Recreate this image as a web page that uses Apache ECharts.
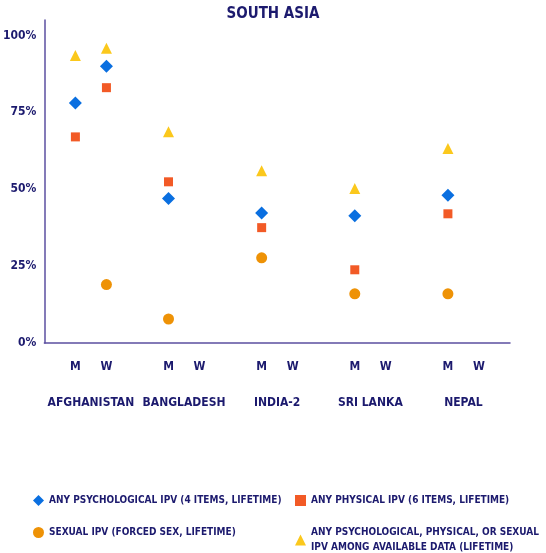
<!DOCTYPE html>
<html><head><meta charset="utf-8">
<script src="https://cdn.jsdelivr.net/npm/echarts@6/dist/echarts.min.js"></script>
<style>html,body{margin:0;padding:0;background:#fff}#c{width:546px;height:553px}</style>
</head><body><div id="c"></div>
<script>
var slots = ['', 'M', 'W', '', 'M', 'W', '', 'M', 'W', '', 'M', 'W', '', 'M', 'W', ''];
var countries = ['AFGHANISTAN', 'BANGLADESH', 'INDIA-2', 'SRI LANKA', 'NEPAL'];
var psych = [null, 78, 90, null, 47, null, null, 42.3, null, null, 41.4, null, null, 48, null, null];
var phys = [null, 67, 83, null, 52.4, null, null, 37.5, null, null, 23.8, null, null, 42, null, null];
var sexual = [null, null, 19, null, 7.8, null, null, 27.7, null, null, 16, null, null, 16, null, null];
var anyIpv = [null, 93.5, 95.8, null, 68.7, null, null, 56, null, null, 50.2, null, null, 63.2, null, null];
var yTicks = [0, 25, 50, 75, 100];
var names = ['ANY PSYCHOLOGICAL IPV (4 ITEMS, LIFETIME)', 'ANY PHYSICAL IPV (6 ITEMS, LIFETIME)',
  'SEXUAL IPV (FORCED SEX, LIFETIME)', 'ANY PSYCHOLOGICAL, PHYSICAL, OR SEXUAL\nIPV AMONG AVAILABLE DATA (LIFETIME)'];

var navy = '#1c1a6e', font = '"DejaVu Sans Condensed", "Roboto", sans-serif';
var half = [];
for (var i = 0; i < 31; i++) half.push('');
countries.forEach(function (c, g) { half[3 + 6 * g] = c; });

var chart = echarts.init(document.getElementById('c'));
function leg(name, left, top, icon) {
  return { data: [{ name: name, icon: icon }], left: left, top: top, itemWidth: 11, itemHeight: 11, itemGap: 0,
    textStyle: { color: navy, fontFamily: font, fontWeight: 'bold', fontSize: 10, lineHeight: 15 } };
}
chart.setOption({
  animation: false,
  title: { text: 'SOUTH ASIA', left: 'center', top: 2, textStyle: { color: navy, fontFamily: font, fontWeight: 'bold', fontSize: 15 } },
  grid: { left: 40, right: 36, top: 20, bottom: 210 },
  xAxis: [
    { type: 'category', data: slots, boundaryGap: false,
      axisLine: { lineStyle: { color: '#5b4fa0', width: 1.5 } }, axisTick: { show: false },
      axisLabel: { interval: 0, margin: 18, color: navy, fontFamily: font, fontWeight: 'bold', fontSize: 12 } },
    { type: 'category', data: half, boundaryGap: false, position: 'bottom', offset: 46,
      axisLine: { show: false }, axisTick: { show: false },
      axisLabel: { interval: 0, color: navy, fontFamily: font, fontWeight: 'bold', fontSize: 12 } }
  ],
  yAxis: { type: 'value', min: 0, max: 105, interval: 25, splitLine: { show: false },
    axisLine: { show: true, lineStyle: { color: '#5b4fa0', width: 1.5 } }, axisTick: { show: false },
    axisLabel: { color: navy, fontFamily: font, fontWeight: 'bold', fontSize: 12, margin: 8,
      formatter: function (v) { return yTicks.indexOf(v) >= 0 ? v + '%' : ''; } } },
  legend: [leg(names[0], 28, 488, 'diamond'), leg(names[1], 290, 488, 'rect'),
           leg(names[2], 28, 520, 'circle'), leg(names[3], 290, 520, 'triangle')],
  series: [
    { name: names[0], type: 'scatter', data: psych, symbol: 'diamond', symbolSize: 13, itemStyle: { color: '#0a6fe0', opacity: 1 } },
    { name: names[1], type: 'scatter', data: phys, symbol: 'rect', symbolSize: 9, itemStyle: { color: '#f25a26', opacity: 1 } },
    { name: names[2], type: 'scatter', data: sexual, symbol: 'circle', symbolSize: 11, itemStyle: { color: '#ee9206', opacity: 1 } },
    { name: names[3], type: 'scatter', data: anyIpv, symbol: 'triangle', symbolSize: 11, itemStyle: { color: '#fbc81c', opacity: 1 } }
  ]
});
</script></body></html>
